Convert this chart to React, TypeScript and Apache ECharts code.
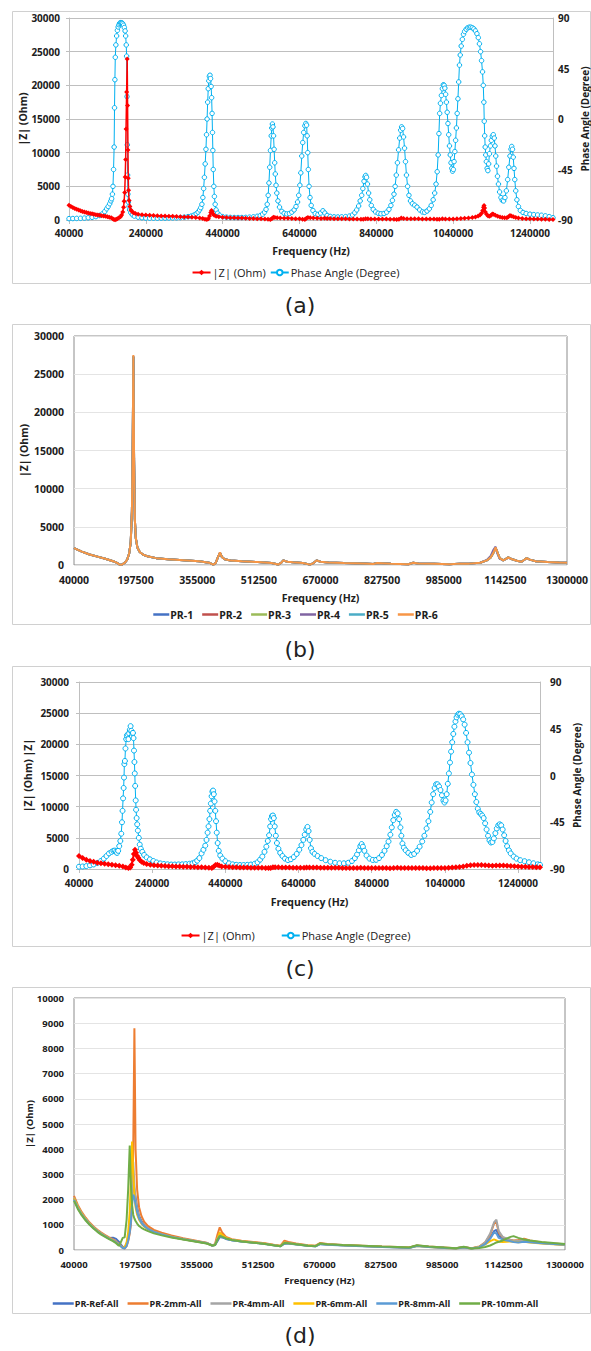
import React, { useEffect, useRef } from "react";
import * as echarts from "echarts";

// ---------------- Panel (a) ----------------
const A_PHASE: number[][] = [
  [40000, -88.8], [50000, -88.7], [60000, -88.6], [70000, -88.5], [80000, -88.3], [90000, -88], [100000, -87.6], [110000, -87], [120000, -86],
  [127000, -84.5], [133000, -82.5], [138000, -80], [142000, -78], [146000, -75.5], [149000, -73], [151000, -71], [153000, -67], [154500, -60],
  [156000, -45], [157500, -25], [158500, 10], [159500, 35], [160500, 55], [162000, 66], [164000, 74], [166000, 79], [168000, 82], [170000, 84],
  [172000, 85.3], [174000, 85.8], [176000, 85.8], [178000, 85.5], [180000, 84.8], [182000, 83.5], [184000, 81.5], [186000, 78.5], [187500, 74],
  [189000, 66], [190000, 56], [191000, 20], [191800, -23], [192500, -50], [193300, -67], [194500, -74], [196000, -78], [198000, -81],
  [201000, -83.5], [205000, -85.3], [210000, -86.5], [220000, -87.5], [230000, -88], [240000, -88.3], [250000, -88.4], [260000, -88.4],
  [270000, -88.4], [280000, -88.3], [290000, -88.3], [300000, -88.2], [310000, -88.1], [320000, -88], [330000, -87.8], [340000, -87.5],
  [350000, -87], [358000, -86.5], [365000, -85.7], [371000, -84.5], [376000, -83], [380000, -81], [383000, -79], [386000, -76], [388500, -70],
  [390500, -62], [392500, -52], [394500, -40], [396500, -27], [398000, -14], [399500, 0], [401000, 15], [402500, 27], [404000, 34],
  [405500, 38], [407000, 39], [408500, 36], [410000, 29], [411300, 19], [412500, 5], [413500, -12], [414500, -28], [415500, -45],
  [417000, -60], [418500, -69], [420500, -76], [423000, -81], [427000, -84], [432000, -85.8], [440000, -87], [450000, -87.5], [460000, -87.7],
  [470000, -87.8], [480000, -87.8], [490000, -87.8], [500000, -87.7], [510000, -87.5], [520000, -87.2], [530000, -86.7], [538000, -86],
  [544000, -84.8], [549000, -83], [553000, -80.5], [556000, -76], [558500, -68], [560500, -57], [562500, -43], [564500, -28], [566500, -15],
  [568000, -8], [569500, -4.5], [571000, -7], [572500, -15], [574000, -27], [575500, -39], [577000, -49], [579000, -59], [581000, -66],
  [584000, -73], [588000, -78.5], [594000, -82.3], [600000, -84], [607000, -84.6], [614000, -84.2], [620000, -83], [626000, -81], [631000, -78],
  [635000, -74], [638000, -68], [641000, -59], [643500, -48], [646000, -33], [648500, -21], [651000, -12], [654000, -6], [656500, -4],
  [658500, -5.5], [660000, -15], [661500, -30], [663000, -45], [665000, -60], [667500, -70], [670500, -77], [675000, -81.5], [681000, -84.3],
  [688000, -85], [695000, -83.8], [701000, -81.8], [706000, -83.8], [712000, -86], [720000, -86.8], [730000, -87.2], [740000, -87.3],
  [750000, -87.2], [760000, -87], [770000, -86.5], [778000, -85.5], [784000, -83.5], [789000, -81], [794000, -77.5], [798000, -73],
  [802000, -68], [805000, -62], [808000, -55.5], [810500, -51.5], [812500, -50.3], [814500, -52], [817000, -58], [820000, -66], [823000, -72],
  [827000, -77], [832000, -80.5], [838000, -82.8], [845000, -84], [852000, -84.5], [860000, -84.2], [867000, -83], [873000, -80.5],
  [878000, -77], [882000, -72.5], [886000, -67], [889000, -60], [892000, -50], [895000, -39], [898000, -27.5], [901000, -17], [903500, -10],
  [906000, -7], [908500, -8.5], [911000, -16], [913500, -26], [916000, -38], [918500, -50], [921500, -60], [925000, -68], [929000, -73],
  [934000, -75.5], [940000, -76.8], [946000, -78.5], [953000, -81], [960000, -82.8], [966000, -83.2], [972000, -82], [978000, -80],
  [983000, -77], [988000, -72], [992000, -66], [995500, -58], [998500, -47], [1001000, -32], [1003000, -13], [1005000, 5], [1007000, 14],
  [1009500, 21], [1012000, 27], [1014500, 30.5], [1016500, 30], [1018500, 27.5], [1020500, 22], [1022500, 15], [1024500, 6], [1026500, -4],
  [1028500, -14], [1030500, -24], [1032500, -32], [1034500, -39], [1036500, -44], [1038500, -46.5], [1040500, -45], [1042500, -38],
  [1044500, -29], [1046500, -19], [1048500, -8], [1050500, 5], [1052500, 18], [1054500, 33], [1056500, 48], [1058500, 57], [1061000, 65],
  [1064000, 71], [1067000, 75.5], [1070000, 78], [1074000, 80], [1078000, 81.3], [1082000, 81.8], [1086000, 81.8], [1090000, 81.3],
  [1094000, 80.3], [1098000, 78.5], [1102000, 76], [1105500, 72.5], [1108500, 67], [1111500, 60], [1114000, 52], [1116500, 42],
  [1118500, 30], [1120000, 15], [1121000, -2], [1122200, -15], [1123500, -25], [1125000, -32], [1126500, -38], [1128500, -44], [1130500, -46],
  [1132500, -40], [1134500, -31], [1137000, -24], [1139500, -19], [1142000, -15.5], [1144500, -14], [1147000, -17], [1149000, -24],
  [1151000, -33], [1153000, -42], [1155500, -51], [1158000, -58], [1161000, -65], [1164500, -70], [1168000, -72.5], [1171500, -73],
  [1175000, -70], [1178500, -64], [1182000, -54], [1185000, -43], [1188000, -33], [1190500, -27], [1192500, -24.5], [1194500, -27],
  [1196500, -34], [1198500, -44], [1200500, -54], [1203000, -64], [1206000, -72], [1210000, -78], [1215000, -81.5], [1222000, -83.3],
  [1230000, -84.2], [1240000, -84.8], [1250000, -85.2], [1260000, -85.5], [1270000, -85.8], [1280000, -86.3], [1290000, -87], [1300000, -88],
];

const A_Z: number[][] = [
  [40000, 2200], [45000, 2000], [50000, 1850], [55000, 1700], [60000, 1580], [65000, 1470], [70000, 1370], [75000, 1280], [80000, 1190],
  [85000, 1110], [90000, 1040], [95000, 970], [100000, 910], [105000, 850], [110000, 790], [115000, 740], [120000, 690], [125000, 640],
  [130000, 590], [135000, 540], [140000, 480], [145000, 410], [150000, 320], [154000, 200], [157000, 80], [160000, 40], [163000, 100],
  [166000, 200], [170000, 330], [174000, 500], [177000, 750], [180000, 1200], [182000, 1900], [183500, 2800], [185000, 4100], [186300, 6400],
  [187500, 9000], [188500, 13500], [190000, 19000], [191500, 23900], [192500, 17000], [193500, 10400], [194300, 6200], [195000, 4400],
  [196500, 2900], [198500, 2000], [201000, 1500], [204000, 1250], [208000, 1080], [213000, 960], [220000, 870], [230000, 790], [240000, 740],
  [250000, 700], [260000, 670], [270000, 640], [280000, 610], [290000, 580], [300000, 560], [310000, 540], [320000, 510], [330000, 490],
  [340000, 460], [350000, 430], [360000, 400], [370000, 360], [380000, 300], [388000, 220], [394000, 120], [399000, 60], [403000, 200],
  [406000, 600], [409000, 1100], [411000, 1400], [413000, 1200], [415000, 900], [418000, 700], [423000, 560], [430000, 480], [440000, 420],
  [450000, 380], [460000, 350], [470000, 320], [480000, 300], [490000, 280], [500000, 260], [510000, 240], [520000, 220], [530000, 200],
  [540000, 180], [550000, 150], [558000, 110], [564000, 80], [568000, 200], [572000, 420], [576000, 380], [582000, 330], [590000, 300],
  [600000, 270], [610000, 250], [620000, 230], [630000, 200], [640000, 170], [648000, 120], [654000, 90], [658000, 250], [662000, 380],
  [668000, 320], [676000, 290], [686000, 260], [696000, 240], [705000, 250], [712000, 220], [720000, 210], [730000, 200], [740000, 190],
  [750000, 180], [760000, 170], [770000, 160], [780000, 150], [790000, 140], [800000, 120], [806000, 110], [812000, 200], [818000, 180],
  [826000, 160], [836000, 150], [846000, 140], [856000, 130], [866000, 130], [876000, 120], [886000, 110], [893000, 90], [899000, 100],
  [905000, 280], [911000, 230], [920000, 200], [930000, 190], [940000, 180], [950000, 170], [960000, 160], [970000, 150], [980000, 140],
  [990000, 130], [998000, 110], [1004000, 100], [1012000, 180], [1020000, 160], [1030000, 150], [1040000, 160], [1050000, 180],
  [1060000, 210], [1070000, 250], [1080000, 300], [1090000, 370], [1098000, 460], [1105000, 580], [1110000, 750], [1114000, 1000],
  [1117000, 1400], [1119000, 1900], [1120500, 2150], [1122000, 1800], [1124000, 1200], [1127000, 850], [1131000, 600], [1135000, 560],
  [1139000, 700], [1142000, 900], [1145000, 850], [1150000, 700], [1156000, 560], [1162000, 460], [1168000, 380], [1174000, 320],
  [1180000, 350], [1184000, 500], [1188000, 680], [1192000, 600], [1197000, 480], [1203000, 380], [1210000, 300], [1220000, 240],
  [1230000, 200], [1240000, 170], [1250000, 150], [1260000, 130], [1270000, 110], [1280000, 100], [1290000, 90], [1300000, 80],
];

// ---------------- Panel (b) ----------------
const B_FREQ = [
  40000, 60000, 80000, 100000, 120000, 140000, 150000, 156000, 162000, 170000, 176000, 181000, 185000, 188000, 190000, 191700, 193500,
  195500, 198000, 202000, 208000, 217000, 230000, 250000, 280000, 320000, 360000, 385000, 396000, 402000, 407000, 413000, 418000, 425000,
  440000, 470000, 510000, 545000, 562000, 570000, 575000, 585000, 600000, 625000, 643000, 652000, 660000, 670000, 690000, 730000, 780000,
  805000, 815000, 850000, 895000, 907000, 920000, 960000, 1000000, 1026000, 1050000, 1078000, 1095000, 1105000, 1112000, 1117500, 1122000,
  1128000, 1137000, 1144000, 1150000, 1160000, 1172000, 1184000, 1190000, 1197000, 1205000, 1220000, 1250000, 1280000, 1300000,
];
// PR-1, PR-2, PR-3 and PR-5 coincide with each other in the picture
const B_SHARED = [
  2200, 1750, 1380, 1100, 820, 500, 280, 60, 30, 300, 700, 1500, 3000, 7000, 15000, 27300, 14000, 6000, 3500, 2300, 1700, 1350, 1100, 900,
  750, 620, 480, 300, 50, 250, 900, 1600, 1050, 750, 600, 480, 380, 250, 60, 300, 600, 430, 350, 250, 50, 250, 600, 420, 330, 250, 200,
  120, 250, 180, 100, 300, 200, 150, 100, 180, 180, 300, 600, 1000, 1600, 2250, 1700, 900, 600, 800, 1000, 750, 550, 430, 650, 900, 700,
  500, 380, 320, 300,
];
const B_PR4 = [
  2200, 1750, 1380, 1100, 820, 500, 280, 60, 30, 300, 700, 1500, 3000, 7000, 15000, 27300, 14000, 6000, 3500, 2300, 1700, 1350, 1100, 900,
  750, 620, 480, 300, 50, 250, 900, 1600, 1050, 750, 600, 480, 380, 250, 60, 300, 600, 430, 350, 250, 50, 250, 600, 420, 330, 250, 200,
  120, 250, 180, 100, 300, 200, 150, 100, 180, 180, 300, 650, 1200, 2000, 2400, 1500, 800, 600, 800, 950, 750, 550, 430, 620, 880, 700,
  500, 380, 320, 300,
];
const B_PR6 = [
  2200, 1750, 1380, 1100, 820, 500, 280, 60, 30, 300, 700, 1500, 3000, 7000, 15000, 27500, 14000, 6000, 3500, 2300, 1700, 1350, 1100, 900,
  750, 620, 480, 300, 50, 250, 900, 1650, 1050, 750, 600, 480, 380, 250, 60, 300, 600, 430, 350, 250, 50, 250, 600, 420, 330, 250, 200,
  120, 250, 180, 100, 300, 200, 150, 100, 180, 180, 300, 600, 1000, 1600, 2300, 1700, 900, 600, 800, 1000, 750, 550, 430, 650, 900, 700,
  500, 380, 320, 300,
];
const B_NAMES = ["PR-1", "PR-2", "PR-3", "PR-4", "PR-5", "PR-6"];
const B_VALUES = [B_SHARED, B_SHARED, B_SHARED, B_PR4, B_SHARED, B_PR6];
const B_COLORS = ["#4472C4", "#C0504D", "#9BBB59", "#8064A2", "#4BACC6", "#F79646"];

// ---------------- Panel (c) ----------------
const C_PHASE: number[][] = [
  [40000, -87.8], [50000, -87.6], [60000, -87.2], [70000, -86.5], [80000, -85.6], [90000, -84.2], [100000, -82.3], [108000, -80],
  [115000, -77.5], [122000, -75], [129000, -73.5], [134000, -72.5], [138000, -72.3], [141000, -73.5], [144000, -74.5], [147000, -72.5],
  [150000, -68], [153000, -63], [155500, -56], [157500, -45], [159000, -34], [160500, -22], [162000, -12], [163000, -2], [164000, 11],
  [165500, 14], [167000, 26], [169000, 35], [171000, 38.5], [173000, 39.5], [175000, 35], [177000, 40.5], [179000, 44], [181000, 47.5],
  [183000, 43], [184500, 38], [186000, 40.5], [187500, 41], [189000, 36], [190300, 24], [191500, 13], [192500, 2], [193500, -10],
  [195000, -24], [196000, -33], [197500, -41], [199000, -47], [201000, -53], [203500, -60], [206000, -66.5], [209000, -70.5], [213000, -73.5],
  [218000, -76.5], [225000, -78.8], [234000, -80.7], [243000, -82.3], [252000, -83.7], [262000, -84.6], [272000, -85.2], [282000, -85.5],
  [292000, -85.7], [302000, -85.7], [312000, -85.6], [322000, -85.5], [332000, -85.3], [342000, -85], [350000, -84.5], [357000, -83.5],
  [363000, -82], [369000, -79.5], [375000, -75], [380000, -71.5], [385000, -67.5], [388500, -62], [391500, -55], [394000, -49],
  [396500, -42], [398500, -34], [400500, -27], [402500, -20], [404500, -15.5], [406500, -14.5], [408500, -18], [410500, -25], [412500, -34],
  [414500, -44], [416500, -55], [419000, -65], [422000, -72.5], [426000, -77], [432000, -80], [440000, -82.5], [450000, -84.5],
  [460000, -85.5], [470000, -86], [480000, -86.2], [490000, -86.2], [500000, -86], [510000, -85.7], [520000, -85], [528000, -83.5],
  [535000, -81], [541000, -78], [547000, -73.5], [552000, -68.5], [556000, -63], [559500, -57.5], [562500, -49], [565000, -42],
  [567500, -39], [570000, -38.5], [572500, -41], [575000, -49], [578000, -58], [581000, -65], [585000, -70.5], [590000, -74.5],
  [596000, -77.5], [603000, -80], [611000, -81.4], [619000, -80.6], [627000, -78.5], [635000, -75.5], [642000, -71.5], [648000, -67],
  [653000, -62], [657000, -57], [661000, -52], [664500, -49.5], [667500, -53.5], [670500, -62], [674000, -70], [678000, -73.5],
  [684000, -75.5], [692000, -77.5], [702000, -79.5], [714000, -81.5], [727000, -83], [740000, -84], [752000, -84.5], [764000, -84.5],
  [776000, -84], [786000, -82.3], [794000, -79.5], [800000, -76], [805000, -72], [809000, -68], [812500, -66], [816000, -68.5],
  [820000, -72.5], [826000, -77], [834000, -80], [843000, -81.3], [852000, -81.2], [860000, -79.5], [868000, -76.5], [875000, -72.5],
  [881000, -68], [886000, -63.5], [891000, -57], [895000, -50], [899000, -43], [903000, -38], [907000, -35], [911000, -36.5], [915000, -42],
  [918500, -50], [921000, -58], [924000, -65.5], [928000, -69.5], [933000, -72], [940000, -74.5], [948000, -76.5], [956000, -75.5],
  [964000, -72.5], [971000, -68.5], [978000, -63.5], [984000, -58], [990000, -51], [995000, -44], [1000000, -35], [1004000, -26],
  [1008000, -18], [1012000, -12], [1016000, -8.5], [1020000, -8.5], [1024000, -10.5], [1028000, -14], [1032000, -19], [1036000, -24],
  [1039000, -26], [1042000, -24], [1045000, -18], [1048000, -8], [1051000, 2], [1054000, 12.5], [1057000, 23], [1060000, 32],
  [1063000, 40], [1066000, 47], [1069000, 52], [1072000, 56], [1075000, 58.5], [1078500, 59.5], [1082000, 59], [1086000, 57],
  [1090000, 54], [1094000, 49], [1098000, 41], [1102000, 32], [1106000, 22], [1110000, 12], [1114000, 1], [1118000, -9], [1122000, -18],
  [1126000, -25.5], [1130000, -32], [1134000, -35.5], [1138000, -37], [1142000, -38.5], [1146000, -41], [1150000, -46], [1154000, -52],
  [1158000, -58], [1162000, -62.5], [1166000, -64.5], [1170000, -64], [1174000, -60.5], [1178000, -55.5], [1182000, -51], [1186000, -48],
  [1190000, -47], [1194000, -48], [1198000, -52], [1202000, -57.5], [1206000, -63], [1210000, -68], [1215000, -72], [1220000, -75],
  [1228000, -78], [1236000, -80], [1246000, -81.5], [1258000, -82.5], [1270000, -83.5], [1282000, -84.5], [1294000, -85.5], [1300000, -86],
];

const C_Z: number[][] = [
  [40000, 2100], [50000, 1750], [60000, 1500], [70000, 1300], [80000, 1150], [90000, 1020], [100000, 920], [110000, 830], [120000, 750],
  [130000, 680], [140000, 600], [150000, 520], [160000, 400], [168000, 260], [175000, 180], [180000, 250], [184000, 700], [187000, 1500],
  [190000, 2400], [193000, 3100], [196000, 2600], [199000, 2100], [202000, 1800], [206000, 1450], [211000, 1150], [217000, 950],
  [225000, 800], [235000, 680], [245000, 600], [255000, 550], [265000, 510], [275000, 480], [285000, 460], [295000, 440], [305000, 420],
  [315000, 400], [325000, 380], [335000, 360], [345000, 340], [355000, 320], [365000, 300], [375000, 280], [385000, 250], [395000, 200],
  [403000, 160], [408000, 350], [413000, 650], [418000, 700], [423000, 550], [430000, 420], [440000, 350], [450000, 320], [460000, 300],
  [470000, 280], [480000, 260], [490000, 240], [500000, 230], [510000, 220], [520000, 210], [530000, 200], [540000, 190], [550000, 170],
  [558000, 150], [564000, 180], [570000, 300], [576000, 290], [585000, 270], [595000, 250], [605000, 240], [615000, 230], [625000, 220],
  [635000, 210], [645000, 200], [655000, 190], [662000, 250], [670000, 260], [680000, 240], [690000, 230], [700000, 220], [710000, 210],
  [720000, 200], [730000, 195], [740000, 190], [750000, 185], [760000, 180], [770000, 175], [780000, 170], [790000, 165], [800000, 160],
  [810000, 190], [820000, 180], [830000, 170], [840000, 165], [850000, 160], [860000, 155], [870000, 150], [880000, 145], [890000, 140],
  [900000, 150], [910000, 190], [920000, 180], [930000, 170], [940000, 165], [950000, 160], [960000, 155], [970000, 150], [980000, 145],
  [990000, 140], [1000000, 135], [1010000, 150], [1020000, 170], [1030000, 175], [1040000, 180], [1050000, 200], [1060000, 230],
  [1070000, 270], [1080000, 330], [1090000, 420], [1100000, 520], [1110000, 600], [1120000, 650], [1130000, 660], [1140000, 630],
  [1150000, 590], [1160000, 560], [1170000, 540], [1180000, 560], [1190000, 580], [1200000, 550], [1210000, 510], [1220000, 470],
  [1230000, 440], [1240000, 410], [1250000, 380], [1260000, 360], [1270000, 340], [1280000, 320], [1290000, 300], [1300000, 280],
];

// ---------------- Panel (d) ----------------
const D_FREQ = [
  40000, 50000, 60000, 70000, 80000, 90000, 100000, 110000, 120000, 130000, 140000, 148000, 155000, 160000, 165000, 170000, 175000, 179000,
  183000, 186000, 189000, 192000, 195000, 198000, 202000, 207000, 213000, 220000, 230000, 245000, 265000, 290000, 320000, 350000, 380000,
  395000, 402000, 408000, 414000, 420000, 430000, 445000, 470000, 500000, 530000, 555000, 570000, 580000, 590000, 610000, 640000, 660000,
  672000, 690000, 730000, 780000, 830000, 870000, 900000, 920000, 950000, 990000, 1020000, 1040000, 1060000, 1080000, 1095000, 1108000,
  1118000, 1124000, 1130000, 1140000, 1150000, 1160000, 1168000, 1180000, 1195000, 1210000, 1240000, 1270000, 1300000,
];
const D_REF = [
  2050, 1700, 1430, 1220, 1040, 880, 760, 650, 560, 480, 490, 440, 330, 220, 120, 100, 250, 500, 900, 1300, 2300, 2900, 2300, 2100, 1700,
  1350, 1150, 1000, 860, 740, 640, 540, 440, 360, 280, 190, 200, 350, 520, 500, 440, 390, 340, 300, 250, 190, 150, 250, 270, 230, 170, 150,
  240, 220, 190, 160, 130, 110, 90, 170, 130, 90, 70, 110, 60, 120, 250, 480, 750, 800, 560, 450, 420, 380, 350, 330, 360, 330, 280, 240, 210,
];
const D_2MM = [
  2150, 1780, 1500, 1280, 1090, 930, 800, 690, 590, 500, 420, 340, 260, 180, 100, 60, 150, 350, 650, 1000, 1800, 4000, 8800, 4000, 2400,
  1700, 1350, 1120, 950, 800, 690, 580, 470, 380, 290, 160, 250, 600, 900, 700, 520, 430, 370, 320, 270, 200, 170, 370, 320, 260, 190, 170,
  280, 240, 200, 170, 140, 120, 100, 180, 140, 100, 70, 120, 70, 140, 300, 600, 1050, 1100, 700, 500, 450, 410, 380, 400, 450, 380, 300, 260, 230,
];
const D_4MM = [
  2080, 1720, 1450, 1240, 1060, 900, 770, 660, 560, 470, 390, 320, 240, 160, 90, 70, 180, 420, 800, 1300, 2400, 3500, 2600, 2000, 1600,
  1300, 1100, 980, 850, 730, 630, 530, 440, 360, 280, 170, 220, 450, 650, 560, 470, 400, 350, 300, 250, 190, 160, 300, 280, 240, 180, 160,
  250, 225, 190, 160, 130, 110, 90, 170, 130, 90, 70, 110, 65, 130, 300, 650, 1100, 1200, 750, 520, 460, 400, 370, 370, 400, 350, 290, 250, 220,
];
const D_6MM = [
  2050, 1700, 1430, 1220, 1040, 880, 750, 640, 550, 460, 380, 300, 220, 150, 90, 100, 300, 700, 1500, 2800, 4300, 3000, 2200, 1700, 1400,
  1200, 1050, 930, 820, 710, 620, 520, 430, 350, 270, 180, 200, 420, 700, 600, 480, 410, 350, 300, 250, 190, 160, 300, 270, 230, 180, 160,
  250, 220, 190, 160, 130, 110, 90, 160, 120, 80, 60, 100, 60, 120, 220, 350, 420, 380, 330, 320, 330, 340, 330, 310, 330, 300, 260, 230, 200,
];
const D_8MM = [
  2000, 1660, 1400, 1200, 1020, 870, 740, 630, 540, 450, 370, 300, 220, 150, 80, 60, 160, 380, 700, 1100, 1800, 2200, 2100, 1800, 1500,
  1250, 1080, 950, 830, 720, 620, 520, 430, 350, 270, 170, 200, 400, 550, 520, 450, 390, 340, 290, 240, 180, 150, 270, 260, 220, 170, 150,
  230, 210, 180, 150, 120, 100, 80, 160, 120, 80, 60, 100, 60, 110, 230, 450, 700, 650, 480, 420, 380, 350, 320, 300, 330, 310, 270, 240, 210,
];
const D_10MM = [
  1950, 1620, 1370, 1170, 1000, 850, 720, 610, 520, 430, 350, 270, 170, 300, 480, 500, 1200, 2400, 4150, 2600, 1800, 1400, 1250, 1150, 1050,
  950, 880, 820, 750, 660, 580, 500, 420, 340, 260, 180, 200, 400, 560, 530, 460, 400, 340, 290, 240, 180, 150, 280, 270, 230, 170, 150,
  260, 230, 200, 170, 140, 120, 100, 190, 140, 100, 70, 130, 60, 80, 120, 180, 250, 300, 330, 380, 450, 520, 550, 480, 420, 380, 320, 280, 240,
];
const D_NAMES = ["PR-Ref-All", "PR-2mm-All", "PR-4mm-All", "PR-6mm-All", "PR-8mm-All", "PR-10mm-All"];
const D_VALUES = [D_REF, D_2MM, D_4MM, D_6MM, D_8MM, D_10MM];
const D_COLORS = ["#4472C4", "#ED7D31", "#A5A5A5", "#FFC000", "#5B9BD5", "#70AD47"];

// ---------------- Ticks / labels ----------------
const X_TICKS_AC = { min: 40000, max: 1300000, interval: 200000 };
const X_TICKS_BD = { min: 40000, max: 1300000, interval: 157500 };
const Y_Z_AC = { min: 0, max: 30000, interval: 5000 };
const Y_PHASE = { min: -90, max: 90, interval: 45 };
const Y_Z_B = { min: 0, max: 30000, interval: 5000 };
const Y_Z_D = { min: 0, max: 10000, interval: 1000 };
const CAPTIONS = ["(a)", "(b)", "(c)", "(d)"];

const FONT = "'Open Sans', 'Liberation Sans', Arial, sans-serif";
const TXT = "#202020";
const AXIS_GRAY = "#bfbfbf";
const CYAN = "#00B0F0";
const plain = (v: number) => String(v);

const lbl = (size: number, margin: number, extra: any = {}) => ({
  fontSize: size, fontWeight: "bold", color: TXT, fontFamily: FONT, margin, formatter: plain, ...extra,
});
const nm = (size: number) => ({ fontSize: size, fontWeight: "bold", color: TXT, fontFamily: FONT, lineHeight: size + 1 });

function buildOption(): any {
  const series: any[] = [];
  // (a)
  series.push({
    type: "line", name: "Phase Angle (Degree)", xAxisIndex: 0, yAxisIndex: 1, data: A_PHASE,
    symbol: "circle", symbolSize: 4.5, lineStyle: { color: CYAN, width: 1 },
    itemStyle: { color: "#ffffff", borderColor: CYAN, borderWidth: 1 }, z: 2,
  });
  series.push({
    type: "line", name: "|Z| (Ohm)", xAxisIndex: 0, yAxisIndex: 0, data: A_Z,
    symbol: "diamond", symbolSize: 5, lineStyle: { color: "#FF0000", width: 1.5 },
    itemStyle: { color: "#FF0000" }, z: 3,
  });
  // (b)
  B_NAMES.forEach((n, i) => {
    series.push({
      type: "line", name: n, xAxisIndex: 1, yAxisIndex: 2,
      data: B_FREQ.map((f, k) => [f, B_VALUES[i][k]]),
      symbol: "none", lineStyle: { color: B_COLORS[i], width: 2 }, itemStyle: { color: B_COLORS[i] },
    });
  });
  // (c)
  series.push({
    type: "line", name: "Phase Angle (Degree)", xAxisIndex: 2, yAxisIndex: 4, data: C_PHASE,
    symbol: "circle", symbolSize: 5, lineStyle: { color: CYAN, width: 1 },
    itemStyle: { color: "#ffffff", borderColor: CYAN, borderWidth: 1 }, z: 2,
  });
  series.push({
    type: "line", name: "|Z| (Ohm)", xAxisIndex: 2, yAxisIndex: 3, data: C_Z,
    symbol: "diamond", symbolSize: 6, lineStyle: { color: "#FF0000", width: 2 },
    itemStyle: { color: "#FF0000" }, z: 3,
  });
  // (d)
  D_NAMES.forEach((n, i) => {
    series.push({
      type: "line", name: n, xAxisIndex: 3, yAxisIndex: 5,
      data: D_FREQ.map((f, k) => [f, D_VALUES[i][k]]),
      symbol: "none", lineStyle: { color: D_COLORS[i], width: 2 }, itemStyle: { color: D_COLORS[i] },
    });
  });

  const frame = (x: number, y: number, w: number, h: number) => ({
    type: "rect", silent: true, shape: { x: x + 0.5, y: y + 0.5, width: w, height: h },
    style: { fill: "none", stroke: "#d0d0d0", lineWidth: 1 },
  });
  const cap = (t: string, x: number, y: number) => ({
    type: "text", x, y, silent: true,
    style: { text: t, fontSize: 22, fontFamily: "'DejaVu Sans', sans-serif", fill: "#222", align: "center", verticalAlign: "middle" },
  });

  const acLeftY = (gi: number, nameText: string, nameGap: number, margin: number) => ({
    type: "value", gridIndex: gi, position: "left", ...Y_Z_AC,
    axisLine: { show: true, lineStyle: { color: AXIS_GRAY } },
    axisTick: { show: true, length: 3, lineStyle: { color: AXIS_GRAY } },
    splitLine: { show: true, lineStyle: { color: AXIS_GRAY, width: 1 } },
    axisLabel: lbl(10, margin),
    name: nameText, nameLocation: "middle", nameRotate: 90, nameGap, nameMoveOverlap: false, nameTextStyle: nm(10.5),
  });
  const acRightY = (gi: number, nameGap: number, margin: number) => ({
    type: "value", gridIndex: gi, position: "right", ...Y_PHASE,
    axisLine: { show: true, lineStyle: { color: AXIS_GRAY } },
    axisTick: { show: false },
    splitLine: { show: false },
    axisLabel: lbl(10, margin),
    name: "Phase Angle (Degree)", nameLocation: "middle", nameRotate: 90, nameGap, nameMoveOverlap: false,
    nameTextStyle: nm(10),
  });
  const acX = (gi: number, margin: number, nameGap: number) => ({
    type: "value", gridIndex: gi, ...X_TICKS_AC,
    axisLine: { show: true, onZero: false, lineStyle: { color: AXIS_GRAY } },
    axisTick: { show: true, length: 4, lineStyle: { color: AXIS_GRAY } },
    splitLine: { show: false },
    axisLabel: lbl(10, margin, { showMaxLabel: false }),
    name: "Frequency (Hz)", nameLocation: "middle", nameGap, nameMoveOverlap: false, nameTextStyle: nm(10.5),
  });
  const bdX = (gi: number, size: number, margin: number, nameGap: number) => ({
    type: "value", gridIndex: gi, ...X_TICKS_BD,
    axisLine: { show: false, onZero: false }, axisTick: { show: false }, splitLine: { show: false },
    axisLabel: lbl(size, margin),
    name: "Frequency (Hz)", nameLocation: "middle", nameGap, nameMoveOverlap: false, nameTextStyle: nm(size),
  });
  const bdY = (gi: number, ticks: any, size: number, margin: number, nameGap: number) => ({
    type: "value", gridIndex: gi, ...ticks,
    axisLine: { show: false }, axisTick: { show: false },
    splitLine: { show: true, lineStyle: { color: "#e4e4e4", width: 1 } },
    axisLabel: lbl(size, margin),
    name: "|Z| (Ohm)", nameLocation: "middle", nameRotate: 90, nameGap, nameMoveOverlap: false, nameTextStyle: nm(size),
  });

  return {
    animation: false,
    backgroundColor: "#ffffff",
    textStyle: { fontFamily: FONT },
    grid: [
      { left: 69, top: 18, width: 484, height: 202, outerBoundsMode: "none" },
      { left: 74, top: 336, width: 493, height: 229, show: true, borderColor: "#8c8c8c", borderWidth: 1, backgroundColor: "transparent", outerBoundsMode: "none" },
      { left: 79, top: 682, width: 461, height: 187, outerBoundsMode: "none" },
      { left: 74, top: 998, width: 491, height: 252, show: true, borderColor: "#8c8c8c", borderWidth: 1, backgroundColor: "transparent", outerBoundsMode: "none" },
    ],
    xAxis: [acX(0, 8, 25), bdX(1, 10.5, 9, 27), acX(2, 9, 27), bdX(3, 9.5, 9, 25)],
    yAxis: [
      acLeftY(0, "|Z| (Ohm)", 40, 9),
      acRightY(0, 26, 5),
      bdY(1, Y_Z_B, 10.5, 10, 44),
      acLeftY(2, "|Z| (Ohm) |Z|", 45, 10),
      acRightY(2, 31, 10),
      bdY(3, Y_Z_D, 9.5, 10, 39),
    ],
    legend: [
      {
        top: 262, left: "center", data: ["|Z| (Ohm)", "Phase Angle (Degree)"], itemWidth: 18, itemHeight: 7, itemGap: 4,
        textStyle: { fontSize: 11, color: TXT, fontFamily: FONT, padding: [0, 0, 0, -3] },
      },
      {
        top: 604, left: "center", data: B_NAMES, icon: "rect", itemWidth: 16, itemHeight: 2.5, itemGap: 9,
        textStyle: { fontSize: 10.5, fontWeight: "bold", color: TXT, fontFamily: FONT, padding: [0, 0, 0, -4] },
      },
      {
        top: 925, left: "center", data: ["|Z| (Ohm)", "Phase Angle (Degree)"], itemWidth: 18, itemHeight: 7, itemGap: 26,
        textStyle: { fontSize: 11, color: TXT, fontFamily: FONT, padding: [0, 0, 0, -3] },
      },
      {
        top: 1294, left: "center", data: D_NAMES, icon: "rect", itemWidth: 21, itemHeight: 2.5, itemGap: 9,
        textStyle: { fontSize: 9, fontWeight: "bold", color: TXT, fontFamily: FONT, padding: [0, 0, 0, -4] },
      },
    ],
    graphic: [
      frame(12, 11, 578, 272),
      frame(12, 324, 578, 300),
      frame(12, 666, 578, 280),
      frame(12, 987, 578, 326),
      cap(CAPTIONS[0], 300, 305),
      cap(CAPTIONS[1], 300, 649),
      cap(CAPTIONS[2], 300, 968),
      cap(CAPTIONS[3], 300, 1335),
    ],
    series,
  };
}

export default function App() {
  const ref = useRef<HTMLDivElement>(null);
  useEffect(() => {
    document.body.style.margin = "0";
    const chart = echarts.init(ref.current as HTMLDivElement, undefined, { renderer: "svg" });
    chart.setOption(buildOption());
    return () => chart.dispose();
  }, []);
  return <div ref={ref} style={{ width: 591, height: 1351 }} />;
}
